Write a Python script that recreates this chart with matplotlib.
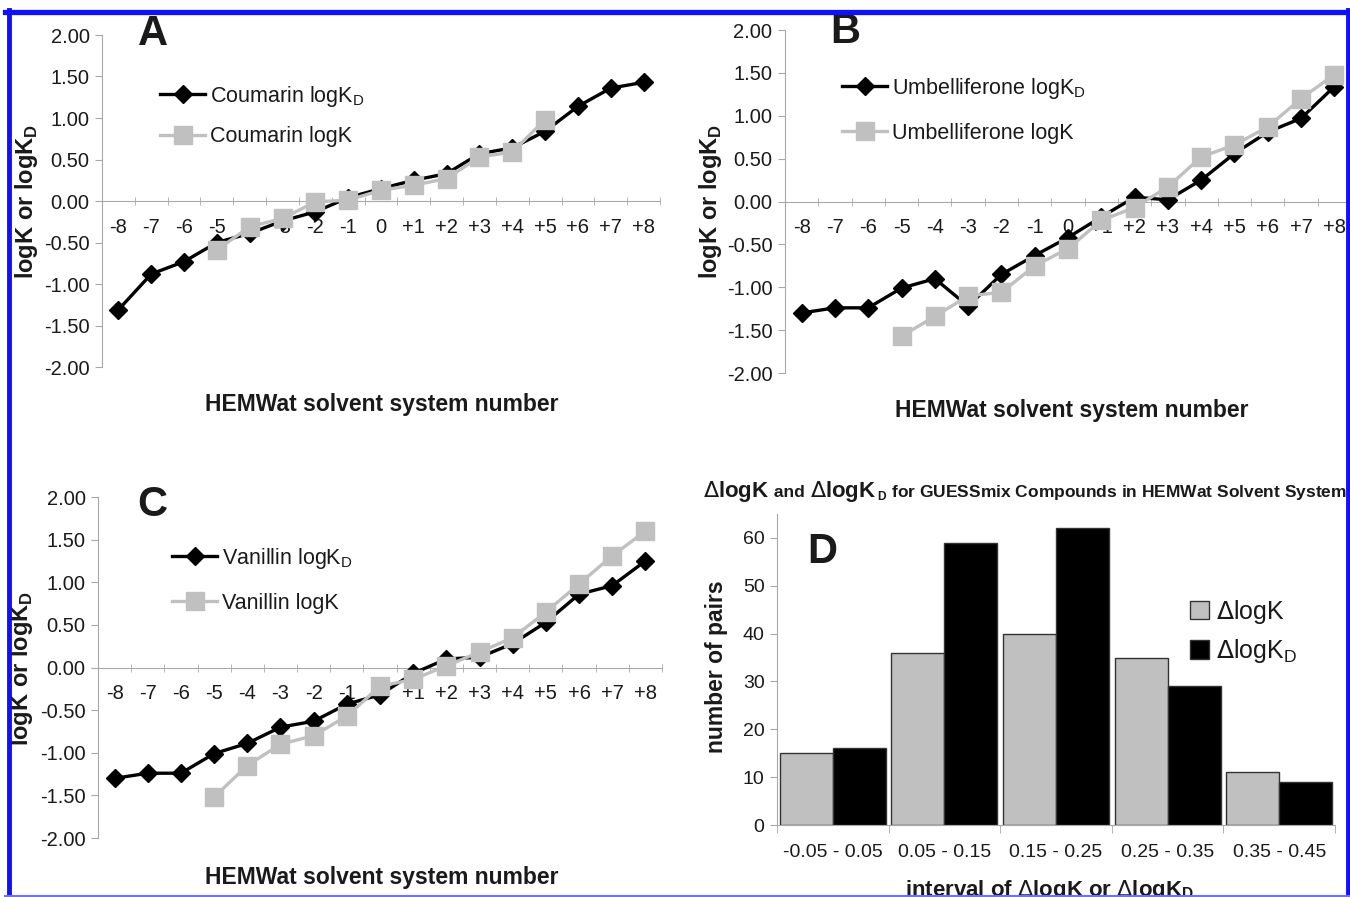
import matplotlib
matplotlib.use('Agg')
import matplotlib.pyplot as plt
import numpy as np
from matplotlib import font_manager
from matplotlib.lines import Line2D
from matplotlib.text import Annotation

# HEMWat solvent systems
systems = ['-8', '-7', '-6', '-5', '-4', '-3', '-2', '-1', '0',
           '+1', '+2', '+3', '+4', '+5', '+6', '+7', '+8']

coumarin_kd = [-1.31, -0.88, -0.73, -0.50, -0.39, -0.24, -0.13, 0.04, 0.15,
               0.25, 0.33, 0.57, 0.64, 0.84, 1.14, 1.36, 1.43]
coumarin_k = [None, None, None, -0.59, -0.31, -0.21, -0.01, 0.01, 0.13,
              0.19, 0.27, 0.53, 0.59, 0.98, None, None, None]

umbel_kd = [-1.30, -1.24, -1.24, -1.01, -0.90, -1.22, -0.85, -0.63, -0.42,
            -0.18, 0.05, 0.02, 0.25, 0.56, 0.81, 0.97, 1.34]
umbel_k = [None, None, None, -1.57, -1.34, -1.10, -1.06, -0.75, -0.55,
           -0.22, -0.07, 0.17, 0.52, 0.66, 0.87, 1.20, 1.48]

vanil_kd = [-1.30, -1.24, -1.24, -1.01, -0.89, -0.70, -0.63, -0.43, -0.32,
            -0.07, 0.10, 0.12, 0.28, 0.53, 0.86, 0.96, 1.25]
vanil_k = [None, None, None, -1.52, -1.15, -0.90, -0.80, -0.57, -0.22,
           -0.14, 0.02, 0.18, 0.35, 0.65, 0.98, 1.31, 1.60]

# histogram of differences
intervals = ['-0.05 - 0.05', '0.05 - 0.15', '0.15 - 0.25', '0.25 - 0.35', '0.35 - 0.45']
dlogk = [15, 36, 40, 35, 11]
dlogkd = [16, 59, 62, 29, 9]

names = {f.name for f in font_manager.fontManager.ttflist}
base = 'Liberation Sans Narrow' if 'Liberation Sans Narrow' in names else 'Liberation Sans'
plt.rcParams['font.family'] = [base, 'DejaVu Sans']
plt.rcParams['text.color'] = '#1a1a1a'
plt.rcParams['xtick.color'] = '#1a1a1a'
plt.rcParams['ytick.color'] = '#1a1a1a'

W, H = 1350, 897
fig = plt.figure(figsize=(W / 100, H / 100), dpi=100)


def fx(x):
    return x / W


def fy(y):
    return 1 - y / H


def box(x0, y0, x1, y1):
    return [fx(x0), fy(y1), (x1 - x0) / W, (y1 - y0) / H]


AXC = '#a8a8a8'
GRAY = '#c0c0c0'


def line_panel(ax, kd, k, name, letter, leg_xy, spacing, letter_xy, ylab_xy, xlab_xy):
    x = np.arange(len(systems))
    kd = np.array(kd, dtype=float)
    k = np.array([np.nan if v is None else v for v in k], dtype=float)
    ax.plot(x, kd, color='black', lw=2.4, marker='D', ms=9.5,
            label=name + r' logK$_\mathregular{D}$', zorder=3)
    ax.plot(x, k, color=GRAY, lw=2.4, marker='s', ms=12.5, label=name + ' logK', zorder=4)
    ax.set_xlim(-0.5, 16.5)
    ax.set_ylim(-2, 2)
    for s in ['top', 'right']:
        ax.spines[s].set_visible(False)
    ax.spines['left'].set_color(AXC)
    ax.spines['bottom'].set_color(AXC)
    ax.spines['bottom'].set_position(('data', 0))
    ax.set_yticks(np.arange(-2, 2.01, 0.5))
    ax.set_yticklabels(['%.2f' % v for v in np.arange(-2, 2.01, 0.5)])
    ax.tick_params(axis='y', length=5, color=AXC, labelsize=14.5, pad=4)
    ax.set_xticks(x)
    ax.set_xticklabels(systems)
    ax.tick_params(axis='x', which='major', length=0, labelsize=14.5, pad=12)
    ax.set_xticks(np.arange(-0.5, 17, 1), minor=True)
    ax.tick_params(axis='x', which='minor', length=6, direction='inout', color=AXC)
    ax.patch.set_alpha(0)
    ax.legend(loc='upper left', bbox_to_anchor=(fx(leg_xy[0]), fy(leg_xy[1])),
              bbox_transform=fig.transFigure, frameon=False, fontsize=15.5,
              borderpad=0, borderaxespad=0, handlelength=2.1, handletextpad=0.2,
              labelspacing=spacing)
    fig.text(fx(letter_xy[0]), fy(letter_xy[1]), letter, fontsize=30,
             fontweight='bold', ha='center', va='baseline')
    fig.text(fx(ylab_xy[0]), fy(ylab_xy[1]), r'logK or logK$_\mathregular{D}$',
             rotation=90, fontsize=17, fontweight='bold', ha='center', va='center')
    fig.text(fx(xlab_xy[0]), fy(xlab_xy[1]), 'HEMWat solvent system number',
             fontsize=16.5, fontweight='bold', ha='center', va='center')


axA = fig.add_axes(box(102, 35, 660, 367))
axB = fig.add_axes(box(785, 30, 1351, 373))
axC = fig.add_axes(box(98, 497, 662, 838))
axD = fig.add_axes(box(777, 514, 1335, 825))

line_panel(axA, coumarin_kd, coumarin_k, 'Coumarin', 'A', (160, 84), 0.8,
           (153, 45), (27, 201), (382, 405))
line_panel(axB, umbel_kd, umbel_k, 'Umbelliferone', 'B', (842, 76), 1.0,
           (845, 43), (710, 201), (1072, 410))
line_panel(axC, vanil_kd, vanil_k, 'Vanillin', 'C', (172, 546), 1.0,
           (152, 516), (22, 668), (382, 877))

# panel D
xd = np.arange(len(intervals))
bw = 0.475
axD.bar(xd - bw / 2, dlogk, bw, color=GRAY, edgecolor='#333333', lw=1, label=r'$\Delta$logK')
axD.bar(xd + bw / 2, dlogkd, bw, color='black', edgecolor='#333333', lw=1,
        label=r'$\Delta$logK$_\mathregular{D}$')
axD.set_xlim(-0.5, 4.5)
axD.set_ylim(0, 65)
for s in ['top', 'right']:
    axD.spines[s].set_visible(False)
axD.spines['left'].set_color(AXC)
axD.spines['bottom'].set_color(AXC)
axD.set_yticks(range(0, 61, 10))
axD.tick_params(axis='y', length=5, color=AXC, labelsize=14, pad=4)
axD.set_xticks(xd)
axD.set_xticklabels(intervals)
axD.tick_params(axis='x', which='major', length=0, labelsize=14, pad=14)
axD.set_xticks(np.arange(-0.5, 5, 1), minor=True)
axD.tick_params(axis='x', which='minor', length=6, color=AXC)
axD.legend(loc='upper left', bbox_to_anchor=(fx(1190), fy(598)), bbox_transform=fig.transFigure,
           frameon=False, fontsize=18, borderpad=0, borderaxespad=0, handlelength=0.75,
           handleheight=0.75, handletextpad=0.3, labelspacing=0.45)
fig.text(fx(822), fy(563), 'D', fontsize=30, fontweight='bold', ha='center', va='baseline')
fig.text(fx(716), fy(667), 'number of pairs', rotation=90, fontsize=16.5, fontweight='bold',
         ha='center', va='center')
fig.text(fx(1050), fy(890), r'interval of $\Delta$logK or $\Delta$logK$_\mathregular{D}$',
         fontsize=16, fontweight='bold', ha='center', va='center')

# title of panel D, pieces of mixed size on one baseline
title_y = fy(497)
prev = fig.text(fx(703), title_y, r'$\Delta$logK', fontsize=16, fontweight='bold', va='baseline')
pieces = [(' and ', 12.5), (r'$\Delta$logK', 16),
          (r'$_\mathregular{D}$ for GUESSmix Compounds in HEMWat Solvent Systems', 12.5)]
for txt, size in pieces:
    prev = fig.add_artist(Annotation(txt, xy=(1, title_y), xycoords=(prev, 'figure fraction'),
                                     fontsize=size, fontweight='bold', va='baseline', ha='left'))

# blue frame
blue = '#1010ff'
fig.add_artist(Line2D([fx(5), fx(1350)], [fy(12), fy(12)], transform=fig.transFigure,
                      color=blue, lw=3.8, zorder=20))
fig.add_artist(Line2D([fx(8.5), fx(8.5)], [fy(10), fy(897)], transform=fig.transFigure,
                      color=blue, lw=3.5, zorder=20))
fig.add_artist(Line2D([fx(1347.5), fx(1347.5)], [fy(10), fy(897)], transform=fig.transFigure,
                      color=blue, lw=3.5, zorder=20))
fig.add_artist(Line2D([fx(5), fx(1350)], [fy(895.5), fy(895.5)], transform=fig.transFigure,
                      color='#7070ff', lw=1.5, zorder=20))

fig.savefig('out.png', dpi=100)
